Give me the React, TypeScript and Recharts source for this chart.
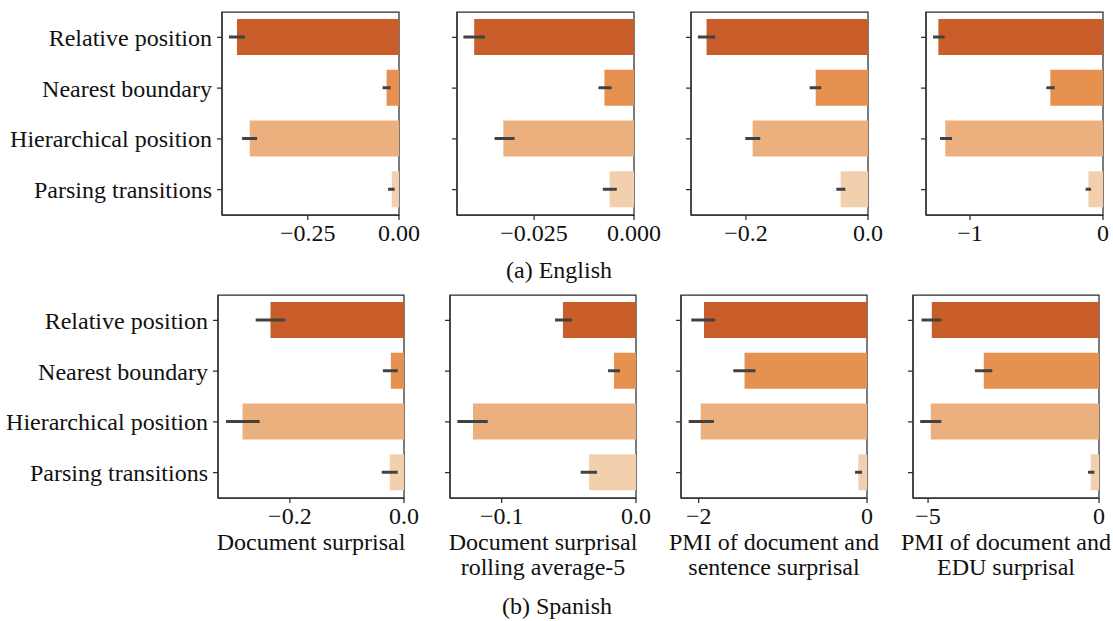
import React from "react";
import { BarChart, Bar, XAxis, YAxis, ErrorBar, Cell, ReferenceArea } from "recharts";

const FONT = '"Liberation Serif", "DejaVu Serif", serif';
const FS = 24;

// ---------- data ----------
const categories = ["Relative position", "Nearest boundary", "Hierarchical position", "Parsing transitions"];
const barColors = ["#CA5E2A", "#E6914F", "#ECB07E", "#F2D0AE"];

// English
const enDocMean = [-0.444, -0.034, -0.409, -0.02];
const enDocLow = [-0.466, -0.045, -0.43, -0.03];
const enDocHigh = [-0.422, -0.023, -0.389, -0.012];

const enRollMean = [-0.04, -0.0074, -0.0327, -0.0061];
const enRollLow = [-0.0427, -0.0089, -0.0349, -0.0078];
const enRollHigh = [-0.0373, -0.0056, -0.0299, -0.0043];

const enSentMean = [-0.2645, -0.0857, -0.189, -0.0448];
const enSentLow = [-0.2787, -0.0956, -0.201, -0.0519];
const enSentHigh = [-0.2502, -0.0765, -0.1765, -0.037];

const enEduMean = [-1.238, -0.396, -1.186, -0.11];
const enEduLow = [-1.278, -0.426, -1.226, -0.131];
const enEduHigh = [-1.191, -0.363, -1.135, -0.09];

// Spanish
const esDocMean = [-0.234, -0.023, -0.283, -0.025];
const esDocLow = [-0.26, -0.037, -0.312, -0.039];
const esDocHigh = [-0.208, -0.011, -0.253, -0.011];

const esRollMean = [-0.0544, -0.0164, -0.1214, -0.035];
const esRollLow = [-0.0603, -0.0208, -0.133, -0.0412];
const esRollHigh = [-0.0474, -0.0119, -0.1104, -0.029];

const esSentMean = [-1.937, -1.455, -1.976, -0.103];
const esSentLow = [-2.087, -1.589, -2.119, -0.142];
const esSentHigh = [-1.802, -1.324, -1.819, -0.059];

const esEduMean = [-4.89, -3.37, -4.92, -0.243];
const esEduLow = [-5.19, -3.63, -5.23, -0.32];
const esEduHigh = [-4.61, -3.12, -4.61, -0.135];

// axis limits and ticks
const enDocDomain = [-0.485, 0];
const enRollDomain = [-0.0443, 0];
const enSentDomain = [-0.29, 0];
const enEduDomain = [-1.331, 0];
const esDocDomain = [-0.326, 0];
const esRollDomain = [-0.1385, 0];
const esSentDomain = [-2.21, 0];
const esEduDomain = [-5.44, 0];

const enDocTicks = [-0.25, 0];
const enRollTicks = [-0.025, 0];
const enSentTicks = [-0.2, 0];
const enEduTicks = [-1, 0];
const esDocTicks = [-0.2, 0];
const esRollTicks = [-0.1, 0];
const esSentTicks = [-2, 0];
const esEduTicks = [-5, 0];

const axisTitles = [
  ["Document surprisal"],
  ["Document surprisal", "rolling average-5"],
  ["PMI of document and", "sentence surprisal"],
  ["PMI of document and", "EDU surprisal"],
];
const captions = ["(a) English", "(b) Spanish"];

// ---------- helpers ----------
function buildData(mean: number[], low: number[], high: number[]) {
  return categories.map((name, i) => ({
    name,
    value: mean[i],
    err: [mean[i] - low[i], high[i] - mean[i]],
  }));
}

const fmt = (decimals: number) => (v: number) => {
  const s = Math.abs(v).toFixed(decimals);
  return v < 0 ? "\u2212" + s : s;
};

const AXIS_COLOR = "#2b2b2b";

type PanelProps = {
  data: any[];
  domain: number[];
  ticks: number[];
  decimals: number;
  plotLeft: number;
  plotTop: number;
  plotW: number;
  plotH: number;
  showLabels: boolean;
};

function Panel({ data, domain, ticks, decimals, plotLeft, plotTop, plotW, plotH, showLabels }: PanelProps) {
  const yW = showLabels ? plotLeft : 20;
  const mt = 4;
  const mr = 30;
  return (
    <div style={{ position: "absolute", left: plotLeft - yW, top: plotTop - mt }}>
      <BarChart
        layout="vertical"
        width={yW + plotW + mr}
        height={mt + plotH + 44}
        data={data}
        margin={{ top: mt, right: mr, bottom: 0, left: 0 }}
      >
        <XAxis
          type="number"
          domain={domain}
          ticks={ticks}
          tickFormatter={fmt(decimals)}
          allowDataOverflow
          interval={0}
          height={44}
          tickSize={5}
          tickMargin={4}
          axisLine={{ stroke: AXIS_COLOR, strokeWidth: 1.25 }}
          tickLine={{ stroke: AXIS_COLOR, strokeWidth: 1.25 }}
          tick={{ fill: "#111", fontSize: FS, fontFamily: FONT }}
        />
        <YAxis
          type="category"
          dataKey="name"
          width={yW}
          interval={0}
          tickSize={5}
          tickMargin={5}
          axisLine={{ stroke: AXIS_COLOR, strokeWidth: 1.25 }}
          tickLine={{ stroke: AXIS_COLOR, strokeWidth: 1.25 }}
          tick={{ fill: "#111", fontSize: FS, fontFamily: FONT }}
          tickFormatter={showLabels ? undefined : () => ""}
        />
        <Bar dataKey="value" barSize={36} isAnimationActive={false}>
          {data.map((_d, i) => (
            <Cell key={i} fill={barColors[i]} />
          ))}
          <ErrorBar
            dataKey="err"
            direction="x"
            width={0}
            strokeWidth={3}
            stroke="#424242"
            isAnimationActive={false}
          />
        </Bar>
        <ReferenceArea
          x1={domain[0]}
          x2={0}
          fill="none"
          stroke={AXIS_COLOR}
          strokeWidth={1.25}
          ifOverflow="visible"
        />
      </BarChart>
    </div>
  );
}

const topRow = [
  { data: buildData(enDocMean, enDocLow, enDocHigh), domain: enDocDomain, ticks: enDocTicks, decimals: 2 },
  { data: buildData(enRollMean, enRollLow, enRollHigh), domain: enRollDomain, ticks: enRollTicks, decimals: 3 },
  { data: buildData(enSentMean, enSentLow, enSentHigh), domain: enSentDomain, ticks: enSentTicks, decimals: 1 },
  { data: buildData(enEduMean, enEduLow, enEduHigh), domain: enEduDomain, ticks: enEduTicks, decimals: 0 },
];
const bottomRow = [
  { data: buildData(esDocMean, esDocLow, esDocHigh), domain: esDocDomain, ticks: esDocTicks, decimals: 1 },
  { data: buildData(esRollMean, esRollLow, esRollHigh), domain: esRollDomain, ticks: esRollTicks, decimals: 1 },
  { data: buildData(esSentMean, esSentLow, esSentHigh), domain: esSentDomain, ticks: esSentTicks, decimals: 0 },
  { data: buildData(esEduMean, esEduLow, esEduHigh), domain: esEduDomain, ticks: esEduTicks, decimals: 0 },
];

const topLefts = [222, 457, 691, 926];
const bottomLefts = [218, 450, 681, 913];

export default function App() {
  return (
    <div
      style={{
        position: "absolute",
        left: 0,
        top: 0,
        width: 1113,
        height: 621,
        overflow: "hidden",
        background: "#fff",
        fontFamily: FONT,
      }}
    >
      {topRow.map((p, i) => (
        <Panel
          key={"t" + i}
          {...p}
          plotLeft={topLefts[i]}
          plotTop={12}
          plotW={177}
          plotH={203}
          showLabels={i === 0}
        />
      ))}
      {bottomRow.map((p, i) => (
        <Panel
          key={"b" + i}
          {...p}
          plotLeft={bottomLefts[i]}
          plotTop={295}
          plotW={186}
          plotH={203}
          showLabels={i === 0}
        />
      ))}
      <svg
        width={1113}
        height={621}
        style={{ position: "absolute", left: 0, top: 0, pointerEvents: "none" }}
      >
        {axisTitles.map((lines, i) =>
          lines.map((line, j) => (
            <text
              key={i + "-" + j}
              x={bottomLefts[i] + 93}
              y={550 + j * 25}
              textAnchor="middle"
              fontSize={FS}
              fontFamily={FONT}
              fill="#111"
            >
              {line}
            </text>
          ))
        )}
        <text x={559} y={278} textAnchor="middle" fontSize={FS} fontFamily={FONT} fill="#111">
          {captions[0]}
        </text>
        <text x={557} y={614} textAnchor="middle" fontSize={FS} fontFamily={FONT} fill="#111">
          {captions[1]}
        </text>
      </svg>
    </div>
  );
}
